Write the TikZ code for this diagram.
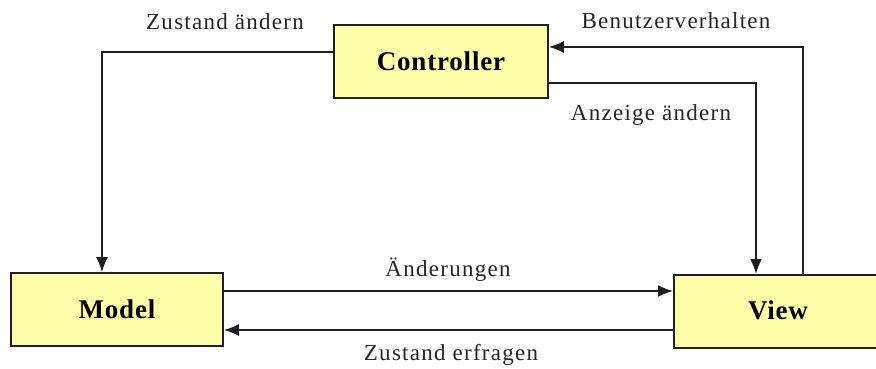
\documentclass[tikz,border=0pt]{standalone}
\usepackage{fontspec}
\setmainfont{Liberation Serif}
\usetikzlibrary{arrows.meta}
\begin{document}
\begin{tikzpicture}[x=1pt,y=-1pt,
  box/.style={draw=black!88, line width=1.7pt, fill={rgb,255:red,255;green,255;blue,170},
    rectangle, inner sep=0pt},
  boxtext/.style={font=\fontsize{27}{30}\selectfont\bfseries\addfontfeature{LetterSpace=3}},
  flow/.style={draw=black!88, line width=1.7pt, -{Latex[length=15pt,width=12pt]}},
  lbl/.style={font=\fontsize{23}{26}\selectfont\addfontfeature{LetterSpace=5.5}, inner sep=0pt, text=black!85}]
  \useasboundingbox (0,0) rectangle (876,369);
  \begin{scope}
    \clip (0,0) rectangle (876,369);
    % the three components
    \node[box, boxtext, minimum width=214pt, minimum height=73pt] (ctrl) at (441,61.5) {Controller};
    \node[box, boxtext, minimum width=212pt, minimum height=73pt] (model) at (117,309.5) {Model};
    \node[box, minimum width=230pt, minimum height=73pt, anchor=north west] (view) at (673,274) {};
    \node[boxtext] (viewtxt) at (778,310.5) {View};
    % connectors
    \coordinate (zc) at (102,52);
    \draw[flow] (ctrl.west |- zc) -- (zc) -- (zc |- model.north);
    \coordinate (bc) at (803,47);
    \draw[flow] (bc |- view.north) -- (bc) -- (ctrl.east |- bc);
    \coordinate (ac) at (756,83);
    \draw[flow] (ctrl.east |- ac) -- (ac) -- (ac |- view.north);
    \coordinate (ae) at (0,291);
    \draw[flow] (model.east |- ae) -- (view.west |- ae);
    \coordinate (ze) at (0,330);
    \draw[flow] (view.west |- ze) -- (model.east |- ze);
  \end{scope}
  % labels
  \node[lbl] (l1) at (225,22) {Zustand ändern};
  \node[lbl] (l2) at (676,21) {Benutzerverhalten};
  \node[lbl] (l3) at (651,115) {Anzeige ändern};
  \node[lbl] (l4) at (448,270) {Änderungen};
  \node[lbl] (l5) at (451,355) {Zustand erfragen};
\end{tikzpicture}
\end{document}
